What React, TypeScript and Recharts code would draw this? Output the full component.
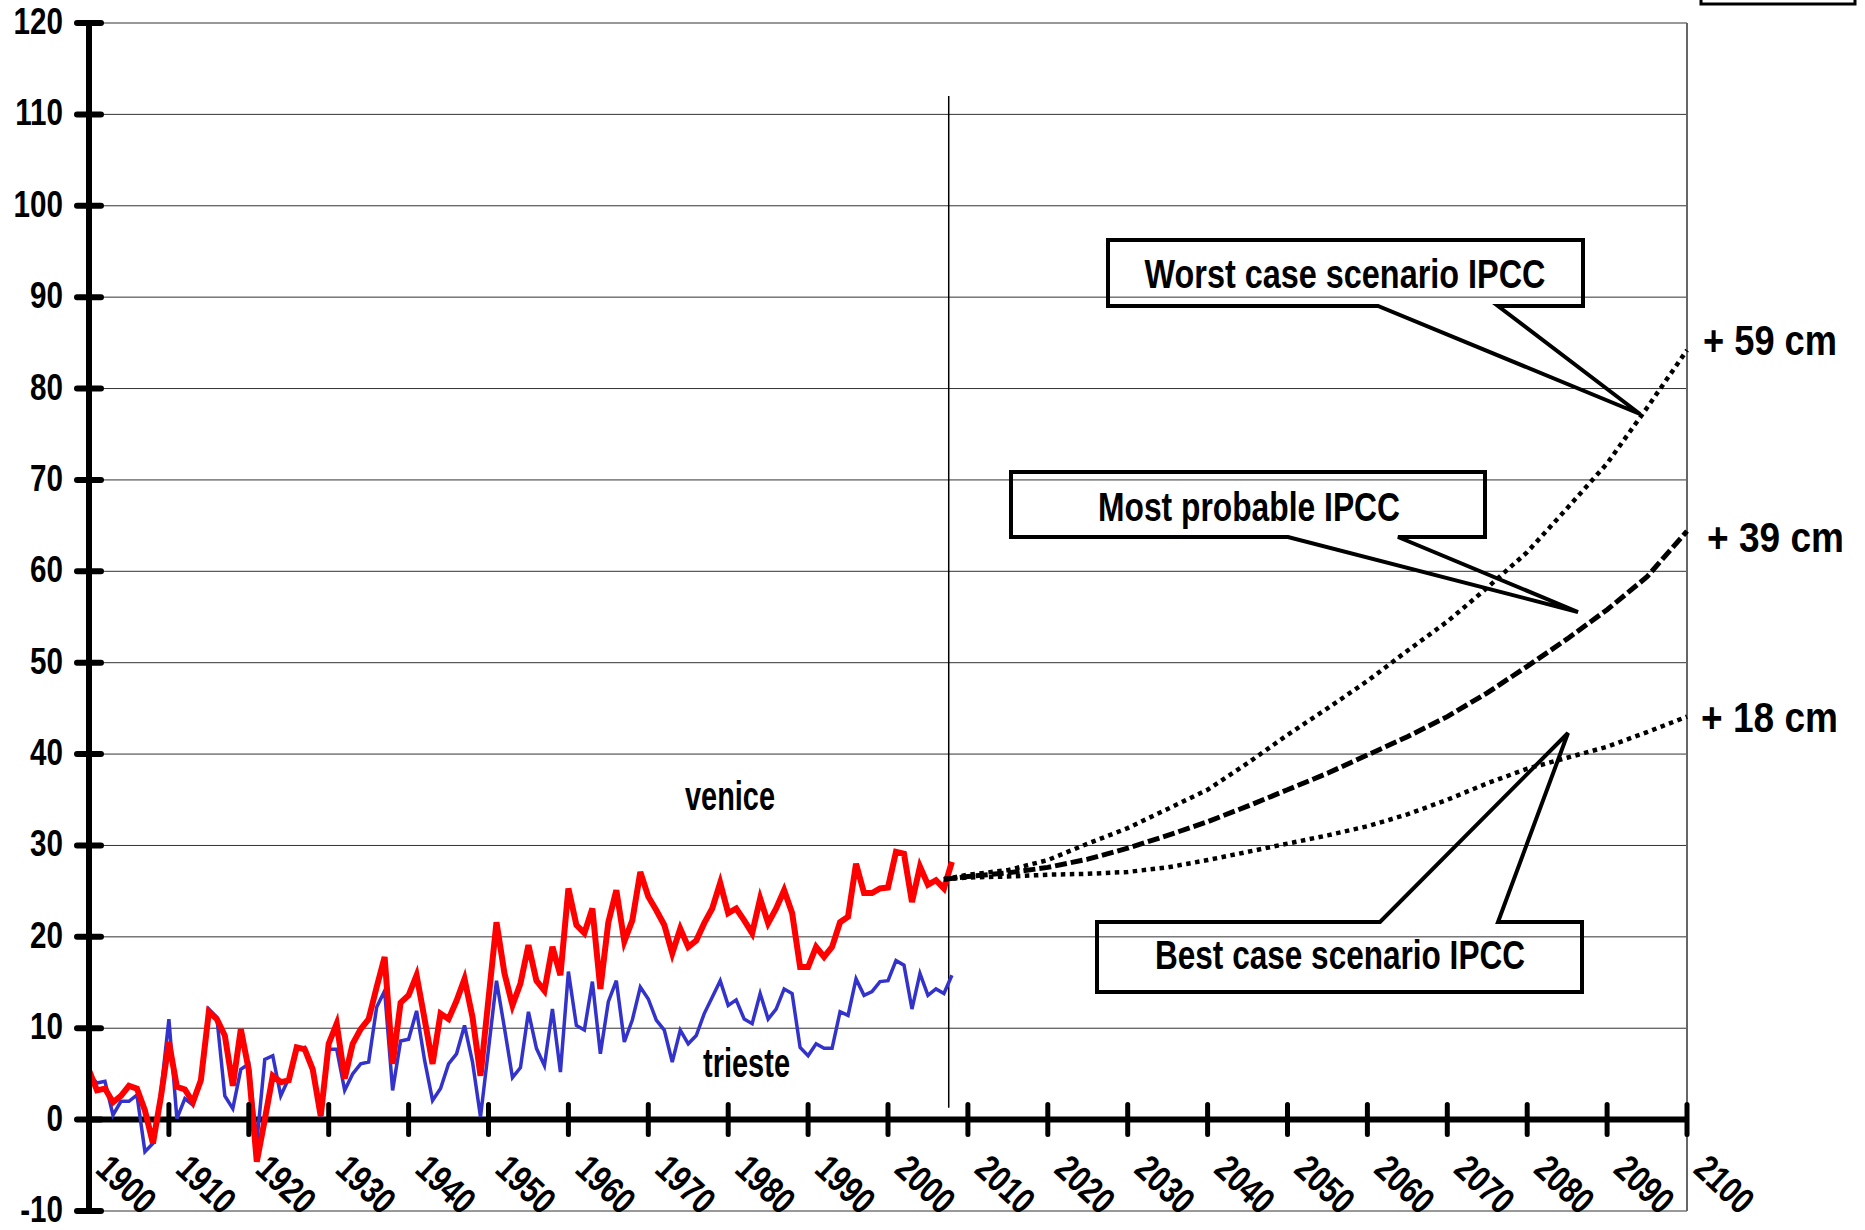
import { LineChart, Line, XAxis, YAxis, CartesianGrid, ReferenceLine } from "recharts";

// yearly mean sea level (cm)
const historicYears = Array.from({ length: 109 }, (_, i) => 1900 + i);

const venice = [
    5.4, 3.2, 3.4, 1.9, 2.6, 3.7, 3.4, 1.0, -2.6, 2.5,
    8.5, 3.6, 3.3, 1.9, 4.3, 11.8, 11.0, 9.2, 3.7, 9.9,
    5.4, -4.6, 0.0, 4.8, 4.1, 4.3, 7.9, 7.7, 5.5, 0.4,
    8.3, 10.5, 4.5, 8.3, 9.9, 11.0, 14.5, 17.8, 6.1, 12.8,
    13.6, 15.8, 11.0, 6.1, 11.6, 11.0, 13.0, 15.4, 11.2, 4.8,
    13.2, 21.6, 16.0, 12.5, 14.9, 19.1, 15.2, 14.1, 18.9, 15.8,
    25.3, 21.3, 20.4, 23.1, 14.3, 21.6, 25.1, 19.5, 21.8, 27.1,
    24.4, 22.9, 21.3, 18.2, 20.9, 18.9, 19.6, 21.5, 23.1, 25.9,
    22.6, 23.1, 21.8, 20.4, 24.2, 21.5, 23.1, 25.1, 22.6, 16.7,
    16.7, 18.9, 17.8, 18.9, 21.6, 22.2, 28.0, 24.8, 24.8, 25.3,
    25.4, 29.3, 29.1, 23.8, 27.7, 25.7, 26.2, 25.3, 28.2,
];

const trieste = [
    5.0, 4.0, 4.2, 0.5, 2.0, 2.0, 2.7, -3.5, -2.6, 3.0,
    11.0, 0.1, 2.3, 1.6, 4.3, 12.1, 11.2, 2.6, 1.2, 5.5,
    6.1, -2.5, 6.6, 7.0, 2.6, 4.5, 7.6, 7.9, 5.5, 0.3,
    7.7, 7.7, 3.2, 5.0, 6.1, 6.3, 12.3, 14.1, 3.2, 8.6,
    8.8, 11.9, 6.5, 2.1, 3.4, 6.1, 7.2, 10.3, 6.3, 0.3,
    7.7, 15.2, 10.0, 4.6, 5.7, 11.8, 7.8, 5.9, 12.1, 5.2,
    16.2, 10.3, 9.8, 15.1, 7.2, 12.9, 15.2, 8.5, 10.9, 14.5,
    13.2, 10.9, 9.8, 6.3, 9.8, 8.3, 9.2, 11.6, 13.4, 15.2,
    12.5, 13.1, 11.0, 10.5, 13.8, 11.0, 12.1, 14.3, 13.8, 7.9,
    7.0, 8.3, 7.8, 7.8, 11.8, 11.4, 15.4, 13.6, 14.0, 15.1,
    15.2, 17.4, 16.9, 12.1, 16.0, 13.6, 14.3, 13.8, 15.8,
];

// IPCC projections
const projYears = [2007, 2010, 2015, 2020, 2025, 2030, 2035, 2040, 2045, 2050, 2055, 2060, 2065, 2070, 2075, 2080, 2085, 2090, 2095, 2100];
const worstCase = [26.3, 26.8, 27.3, 28.4, 30.2, 31.9, 34.0, 36.1, 39.0, 42.1, 45.0, 48.0, 51.3, 54.5, 58.2, 62.1, 66.9, 71.8, 77.9, 84.2];
const mostProbable = [26.3, 26.6, 27.0, 27.6, 28.5, 29.7, 31.1, 32.6, 34.3, 36.1, 37.9, 39.9, 41.9, 44.1, 46.7, 49.6, 52.6, 55.8, 59.4, 64.4];
const bestCase = [26.3, 26.5, 26.6, 26.8, 26.9, 27.1, 27.6, 28.4, 29.3, 30.2, 31.1, 32.1, 33.4, 35.0, 36.8, 38.4, 39.6, 40.8, 42.4, 44.1];

const xTicks = [1900, 1910, 1920, 1930, 1940, 1950, 1960, 1970, 1980, 1990, 2000, 2010, 2020, 2030, 2040, 2050, 2060, 2070, 2080, 2090, 2100];
const yTicks = [-10, 0, 10, 20, 30, 40, 50, 60, 70, 80, 90, 100, 110, 120];

const rowsByYear = new Map<number, any>();
const rowFor = (y: number) => {
    if (!rowsByYear.has(y)) rowsByYear.set(y, { year: y });
    return rowsByYear.get(y);
};
historicYears.forEach((y, i) => {
    rowFor(y).venice = venice[i];
    rowFor(y).trieste = trieste[i];
});
projYears.forEach((y, i) => {
    rowFor(y).worst = worstCase[i];
    rowFor(y).probable = mostProbable[i];
    rowFor(y).best = bestCase[i];
});
const rows = [...rowsByYear.values()].sort((a, b) => a.year - b.year);

const W = 1865;
const H = 1230;
const PLOT_LEFT = 89;
const PLOT_RIGHT = 1687;
const PLOT_TOP = 23;
const PLOT_BOTTOM = 1211;
const ZERO_Y = PLOT_TOP + (120 / 130) * (PLOT_BOTTOM - PLOT_TOP);
const FONT = "'Liberation Sans', Arial, sans-serif";

function XTick(props: any) {
    const { x, payload } = props;
    const ax = x + 5;
    const ay = ZERO_Y + 52;
    return (
        <g>
            <line x1={x} x2={x} y1={ZERO_Y - 15} y2={ZERO_Y + 15} stroke="#000" strokeWidth={5} strokeLinecap="round" />
            <text
                x={0}
                y={0}
                transform={`translate(${ax} ${ay}) rotate(43) scale(0.79 1)`}
                fontFamily={FONT}
                fontWeight="bold"
                fontSize={37}
                fill="#000"
            >
                {payload.value}
            </text>
        </g>
    );
}

function YTick(props: any) {
    const { y, payload } = props;
    return (
        <g>
            <line x1={PLOT_LEFT - 12} x2={PLOT_LEFT + 12} y1={y} y2={y} stroke="#000" strokeWidth={6} strokeLinecap="round" />
            <text
                x={0}
                y={0}
                transform={`translate(${PLOT_LEFT - 26} ${y + 11}) scale(0.8 1)`}
                textAnchor="end"
                fontFamily={FONT}
                fontWeight="bold"
                fontSize={37}
                fill="#000"
            >
                {payload.value}
            </text>
        </g>
    );
}

const txt = { fontFamily: FONT, fontWeight: "bold" as const, fill: "#000" };

function Annotations() {
    return (
        <svg width={W} height={H} style={{ position: "absolute", left: 0, top: 0, pointerEvents: "none" }}>
            {/* cut-off box in the corner */}
            <rect x={1701} y={-10} width={154} height={14} fill="none" stroke="#000" strokeWidth={3} />

            <path d="M1108,240 H1583 V306 H1498 L1640,414 L1378,306 H1108 Z" fill="none" stroke="#000" strokeWidth={4} />
            <text x={1345} y={288} textAnchor="middle" fontSize={41} textLength={401} lengthAdjust="spacingAndGlyphs" {...txt}>
                Worst case scenario IPCC
            </text>

            <path d="M1011,472 H1485 V537 H1398 L1578,612 L1288,537 H1011 Z" fill="none" stroke="#000" strokeWidth={4} />
            <text x={1249} y={521} textAnchor="middle" fontSize={41} textLength={302} lengthAdjust="spacingAndGlyphs" {...txt}>
                Most probable IPCC
            </text>

            <path d="M1097,922 H1380 L1568,733 L1498,922 H1582 V992 H1097 Z" fill="none" stroke="#000" strokeWidth={4} />
            <text x={1340} y={969} textAnchor="middle" fontSize={41} textLength={370} lengthAdjust="spacingAndGlyphs" {...txt}>
                Best case scenario IPCC
            </text>

            <text x={1703} y={355} fontSize={43} textLength={134} lengthAdjust="spacingAndGlyphs" {...txt}>+ 59 cm</text>
            <text x={1707} y={552} fontSize={43} textLength={137} lengthAdjust="spacingAndGlyphs" {...txt}>+ 39 cm</text>
            <text x={1701} y={732} fontSize={43} textLength={137} lengthAdjust="spacingAndGlyphs" {...txt}>+ 18 cm</text>

            <text x={685} y={810} fontSize={40} textLength={90} lengthAdjust="spacingAndGlyphs" {...txt}>venice</text>
            <text x={703} y={1077} fontSize={40} textLength={87} lengthAdjust="spacingAndGlyphs" {...txt}>trieste</text>
        </svg>
    );
}

export default function App() {
    return (
        <div style={{ position: "absolute", left: 0, top: 0, width: W, height: H, background: "#fff", overflow: "hidden" }}>
            <LineChart
                width={W}
                height={H}
                data={rows}
                margin={{ top: PLOT_TOP, right: W - PLOT_RIGHT, bottom: 0, left: PLOT_LEFT - 80 }}
            >
                <CartesianGrid vertical={false} stroke="#333" strokeWidth={1} />
                <XAxis
                    dataKey="year"
                    type="number"
                    domain={[1900, 2100]}
                    ticks={xTicks}
                    interval={0}
                    axisLine={false}
                    tickLine={false}
                    tick={XTick}
                    height={H - PLOT_BOTTOM}
                />
                <YAxis
                    type="number"
                    domain={[-10, 120]}
                    ticks={yTicks}
                    interval={0}
                    axisLine={{ stroke: "#000", strokeWidth: 6 }}
                    tickLine={false}
                    tick={YTick}
                    width={80}
                />
                <ReferenceLine x={2100} stroke="#666" strokeWidth={2} />
                <ReferenceLine y={0} stroke="#000" strokeWidth={6} />
                <ReferenceLine segment={[{ x: 2007.6, y: 1.3 }, { x: 2007.6, y: 112 }]} stroke="#000" strokeWidth={1.5} />
                <Line dataKey="trieste" stroke="#3333CC" strokeWidth={3.5} dot={false} type="linear" isAnimationActive={false} connectNulls />
                <Line dataKey="venice" stroke="#FF0000" strokeWidth={6} dot={false} type="linear" isAnimationActive={false} connectNulls />
                <Line dataKey="best" stroke="#000" strokeWidth={4.5} strokeDasharray="4.5 4.5" dot={false} type="linear" isAnimationActive={false} connectNulls />
                <Line dataKey="probable" stroke="#000" strokeWidth={5} strokeDasharray="12 4" dot={false} type="linear" isAnimationActive={false} connectNulls />
                <Line dataKey="worst" stroke="#000" strokeWidth={4.5} strokeDasharray="4.5 4.5" dot={false} type="linear" isAnimationActive={false} connectNulls />
            </LineChart>
            <Annotations />
        </div>
    );
}
